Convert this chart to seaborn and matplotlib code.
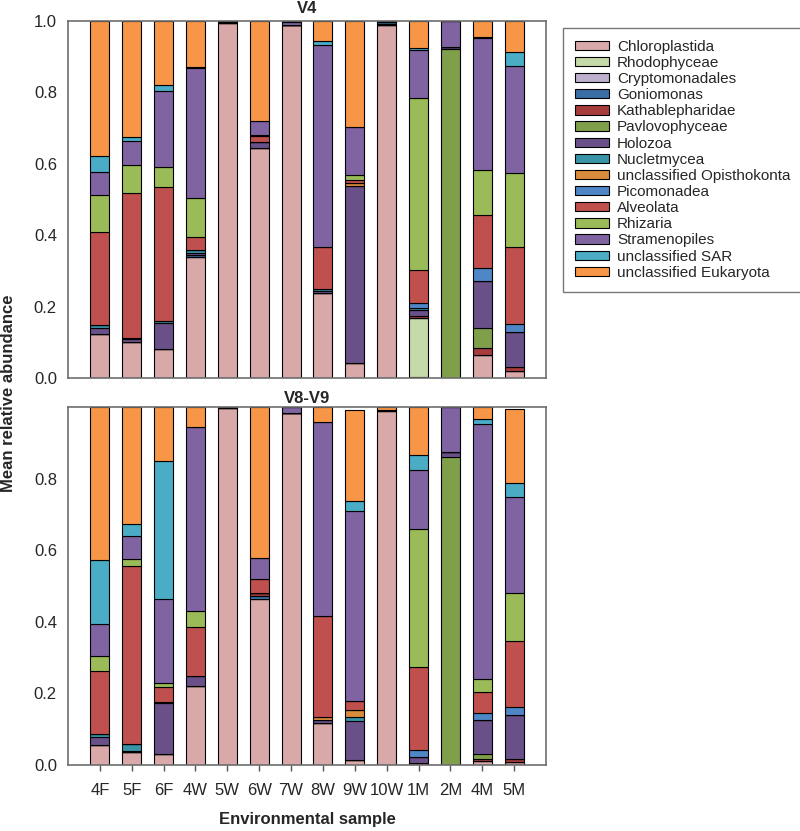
import pandas as pd
import matplotlib.pyplot as plt
import seaborn as sns
from matplotlib.patches import Patch


samples = ["4F", "5F", "6F", "4W", "5W", "6W", "7W", "8W", "9W", "10W", "1M", "2M", "4M", "5M"]
taxa = ["Chloroplastida", "Rhodophyceae", "Cryptomonadales", "Goniomonas", "Kathablepharidae",
        "Pavlovophyceae", "Holozoa", "Nucletmycea", "unclassified Opisthokonta", "Picomonadea",
        "Alveolata", "Rhizaria", "Stramenopiles", "unclassified SAR", "unclassified Eukaryota"]
colors = ["#D9A9AA", "#C6D9A8", "#BDB0CC", "#3A6EA5", "#A63C3C", "#7F9F4A", "#6A5088", "#3A94A8",
          "#D98C3C", "#4F86C6", "#C0504D", "#9BBB59", "#8064A2", "#4BACC6", "#F79646"]

# V4 - one list per taxon, values per sample
v4_chloroplastida = [0.123, 0.100, 0.080, 0.338, 0.994, 0.643, 0.988, 0.237, 0.041, 0.990, 0.003, 0, 0.065, 0.020]
v4_rhodophyceae = [0, 0, 0, 0, 0, 0, 0, 0, 0, 0, 0.165, 0, 0, 0]
v4_cryptomonadales = [0] * 14
v4_goniomonas = [0, 0, 0, 0.007, 0, 0, 0, 0, 0, 0, 0, 0, 0, 0]
v4_kathablepharidae = [0, 0, 0, 0, 0, 0, 0, 0, 0, 0, 0.005, 0, 0.020, 0.010]
v4_pavlovophyceae = [0, 0, 0, 0, 0, 0, 0, 0, 0, 0, 0, 0.922, 0.055, 0]
v4_holozoa = [0.017, 0.008, 0.075, 0.005, 0.004, 0.017, 0, 0.008, 0.497, 0.003, 0.017, 0.006, 0.133, 0.100]
v4_nucletmycea = [0.008, 0.005, 0.004, 0.008, 0, 0, 0, 0.005, 0, 0.004, 0.005, 0, 0, 0]
v4_opisthokonta = [0, 0, 0, 0, 0, 0, 0, 0, 0.007, 0, 0, 0, 0, 0]
v4_picomonadea = [0, 0, 0, 0, 0, 0, 0, 0, 0, 0, 0.015, 0, 0.034, 0.020]
v4_alveolata = [0.262, 0.405, 0.377, 0.036, 0, 0.018, 0, 0.116, 0.011, 0, 0.092, 0, 0.151, 0.216]
v4_rhizaria = [0.103, 0.079, 0.054, 0.111, 0, 0.003, 0, 0, 0.014, 0, 0.481, 0, 0.126, 0.207]
v4_stramenopiles = [0.064, 0.068, 0.215, 0.363, 0, 0.040, 0.009, 0.566, 0.132, 0, 0.135, 0.072, 0.368, 0.300]
v4_sar = [0.045, 0.011, 0.015, 0.004, 0, 0, 0, 0.013, 0, 0, 0.007, 0, 0.004, 0.039]
v4_eukaryota = [0.378, 0.324, 0.180, 0.128, 0.002, 0.279, 0.003, 0.055, 0.298, 0.003, 0.075, 0, 0.044, 0.088]

# V8-V9
v89_chloroplastida = [0.056, 0.035, 0.030, 0.221, 0.997, 0.465, 0.984, 0.116, 0.014, 0.9875, 0, 0, 0.010, 0.009]
v89_rhodophyceae = [0] * 14
v89_cryptomonadales = [0] * 14
v89_goniomonas = [0, 0, 0, 0, 0, 0.008, 0, 0, 0, 0, 0, 0, 0, 0]
v89_kathablepharidae = [0, 0, 0, 0, 0, 0.007, 0, 0, 0, 0.005, 0.007, 0, 0.006, 0.007]
v89_pavlovophyceae = [0, 0, 0, 0, 0, 0, 0, 0, 0, 0, 0, 0.861, 0.014, 0]
v89_holozoa = [0.022, 0.005, 0.142, 0.029, 0.003, 0, 0, 0.010, 0.110, 0, 0.016, 0.012, 0.096, 0.124]
v89_nucletmycea = [0.010, 0.020, 0.005, 0, 0, 0, 0, 0, 0.009, 0, 0, 0, 0, 0]
v89_opisthokonta = [0, 0, 0, 0, 0, 0, 0, 0.009, 0.021, 0, 0, 0, 0, 0]
v89_picomonadea = [0, 0, 0, 0, 0, 0, 0, 0, 0, 0, 0.018, 0, 0.018, 0.021]
v89_alveolata = [0.175, 0.496, 0.040, 0.135, 0, 0.040, 0, 0.281, 0.026, 0, 0.234, 0, 0.059, 0.185]
v89_rhizaria = [0.041, 0.020, 0.011, 0.045, 0, 0, 0, 0, 0, 0, 0.383, 0, 0.036, 0.134]
v89_stramenopiles = [0.091, 0.064, 0.237, 0.515, 0, 0.057, 0.016, 0.543, 0.530, 0, 0.166, 0.127, 0.713, 0.269]
v89_sar = [0.178, 0.033, 0.385, 0, 0, 0, 0, 0, 0.027, 0, 0.041, 0, 0.014, 0.038]
v89_eukaryota = [0.427, 0.327, 0.150, 0.055, 0, 0.423, 0, 0.041, 0.255, 0.0075, 0.135, 0, 0.034, 0.207]

v4 = [v4_chloroplastida, v4_rhodophyceae, v4_cryptomonadales, v4_goniomonas, v4_kathablepharidae,
      v4_pavlovophyceae, v4_holozoa, v4_nucletmycea, v4_opisthokonta, v4_picomonadea,
      v4_alveolata, v4_rhizaria, v4_stramenopiles, v4_sar, v4_eukaryota]
v89 = [v89_chloroplastida, v89_rhodophyceae, v89_cryptomonadales, v89_goniomonas, v89_kathablepharidae,
       v89_pavlovophyceae, v89_holozoa, v89_nucletmycea, v89_opisthokonta, v89_picomonadea,
       v89_alveolata, v89_rhizaria, v89_stramenopiles, v89_sar, v89_eukaryota]


def stacked_bars(ax, values, title, pad):
    df = pd.DataFrame(dict(zip(taxa, values)), index=samples)
    long = df.reset_index().melt(id_vars="index", var_name="taxon", value_name="abundance")
    long["sample"] = pd.Categorical(long["index"], categories=samples)
    # seaborn stacks the last hue level at the bottom
    sns.histplot(data=long, x="sample", weights="abundance", hue="taxon",
                 hue_order=taxa[::-1], palette=dict(zip(taxa, colors)),
                 multiple="stack", discrete=True, shrink=0.6, alpha=1,
                 edgecolor="black", linewidth=0.8, legend=False, ax=ax)
    ax.set_xlim(-1, len(samples))
    ax.set_ylim(0, 1)
    ax.set_xlabel("")
    ax.set_ylabel("")
    ax.set_title(title, fontsize=12, fontweight="bold", pad=pad)
    ax.tick_params(axis="y", length=0, pad=8, labelsize=12)
    for spine in ax.spines.values():
        spine.set_color("#6e6e6e")
        spine.set_linewidth(1.2)


sns.set_style("white")
plt.rcParams["font.family"] = ["Liberation Sans", "DejaVu Sans"]

fig = plt.figure(figsize=(8, 8.31), dpi=100)
ax_top = fig.add_axes([0.085, 0.5451, 0.5975, 0.4296])
ax_bot = fig.add_axes([0.085, 0.0794, 0.5975, 0.4308])

stacked_bars(ax_top, v4, "V4", 6)
stacked_bars(ax_bot, v89, "V8-V9", 3)

ax_top.set_yticks([0, 0.2, 0.4, 0.6, 0.8, 1.0])
ax_top.tick_params(axis="x", bottom=False, labelbottom=False)
ax_bot.set_yticks([0, 0.2, 0.4, 0.6, 0.8])
ax_bot.set_xticks(range(len(samples)))
ax_bot.set_xticklabels(samples)
ax_bot.tick_params(axis="x", bottom=True, length=4, width=1, color="#555555", pad=9, labelsize=12)

ax_bot.set_xlabel("Environmental sample", fontsize=12, fontweight="bold", va="center")
ax_bot.xaxis.set_label_coords(0.5, -0.152)
fig.text(0.011, 0.527, "Mean relative abundance", rotation=90, va="center", ha="center",
         fontsize=12, fontweight="bold")

handles = [Patch(facecolor=c, edgecolor="black", linewidth=0.8, label=t) for t, c in zip(taxa, colors)]
leg = fig.legend(handles=handles, loc="upper left", bbox_to_anchor=(0.694, 0.976), frameon=True,
                 fancybox=False, edgecolor="#555555", fontsize=11, handlelength=2.2,
                 handleheight=0.55, labelspacing=0.14, borderpad=0.8, handletextpad=0.55)
leg.get_frame().set_linewidth(1.0)

plt.savefig("out.png", dpi=100)
